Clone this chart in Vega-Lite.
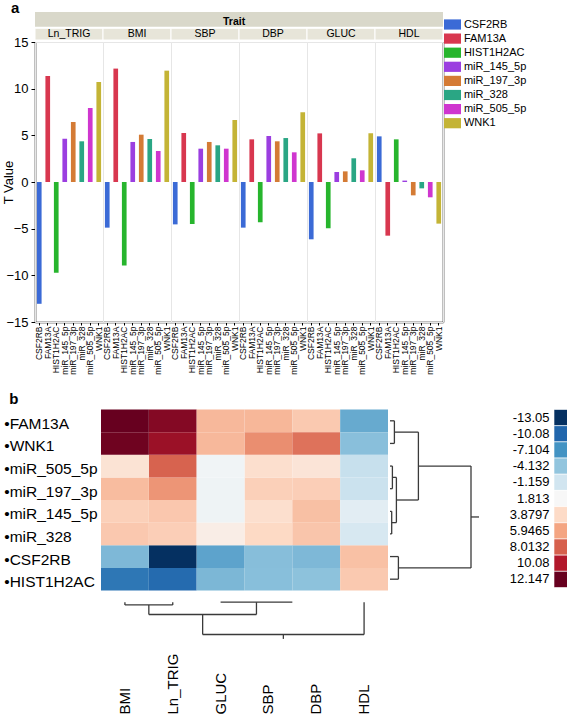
{
  "$schema": "https://vega.github.io/schema/vega-lite/v6.json",
  "padding": {"left": 2, "top": 0, "right": 0, "bottom": 0},
  "title": {"text": "a", "anchor": "start", "fontSize": 15, "fontWeight": "bold", "offset": -4, "dx": 8},
  "datasets": {
    "tvals": [
      {"Trait": "Ln_TRIG", "Gene": "CSF2RB", "T": -13.05},
      {"Trait": "Ln_TRIG", "Gene": "FAM13A", "T": 11.36},
      {"Trait": "Ln_TRIG", "Gene": "HIST1H2AC", "T": -9.72},
      {"Trait": "Ln_TRIG", "Gene": "miR_145_5p", "T": 4.64},
      {"Trait": "Ln_TRIG", "Gene": "miR_197_3p", "T": 6.43},
      {"Trait": "Ln_TRIG", "Gene": "miR_328", "T": 4.36},
      {"Trait": "Ln_TRIG", "Gene": "miR_505_5p", "T": 7.93},
      {"Trait": "Ln_TRIG", "Gene": "WNK1", "T": 10.71},
      {"Trait": "BMI", "Gene": "CSF2RB", "T": -4.89},
      {"Trait": "BMI", "Gene": "FAM13A", "T": 12.15},
      {"Trait": "BMI", "Gene": "HIST1H2AC", "T": -8.95},
      {"Trait": "BMI", "Gene": "miR_145_5p", "T": 4.29},
      {"Trait": "BMI", "Gene": "miR_197_3p", "T": 5.07},
      {"Trait": "BMI", "Gene": "miR_328", "T": 4.61},
      {"Trait": "BMI", "Gene": "miR_505_5p", "T": 3.32},
      {"Trait": "BMI", "Gene": "WNK1", "T": 11.93},
      {"Trait": "SBP", "Gene": "CSF2RB", "T": -4.54},
      {"Trait": "SBP", "Gene": "FAM13A", "T": 5.25},
      {"Trait": "SBP", "Gene": "HIST1H2AC", "T": -4.5},
      {"Trait": "SBP", "Gene": "miR_145_5p", "T": 3.57},
      {"Trait": "SBP", "Gene": "miR_197_3p", "T": 4.29},
      {"Trait": "SBP", "Gene": "miR_328", "T": 3.93},
      {"Trait": "SBP", "Gene": "miR_505_5p", "T": 3.57},
      {"Trait": "SBP", "Gene": "WNK1", "T": 6.64},
      {"Trait": "DBP", "Gene": "CSF2RB", "T": -4.89},
      {"Trait": "DBP", "Gene": "FAM13A", "T": 4.57},
      {"Trait": "DBP", "Gene": "HIST1H2AC", "T": -4.32},
      {"Trait": "DBP", "Gene": "miR_145_5p", "T": 4.93},
      {"Trait": "DBP", "Gene": "miR_197_3p", "T": 4.36},
      {"Trait": "DBP", "Gene": "miR_328", "T": 4.71},
      {"Trait": "DBP", "Gene": "miR_505_5p", "T": 3.18},
      {"Trait": "DBP", "Gene": "WNK1", "T": 7.46},
      {"Trait": "GLUC", "Gene": "CSF2RB", "T": -6.14},
      {"Trait": "GLUC", "Gene": "FAM13A", "T": 5.21},
      {"Trait": "GLUC", "Gene": "HIST1H2AC", "T": -4.96},
      {"Trait": "GLUC", "Gene": "miR_145_5p", "T": 1.07},
      {"Trait": "GLUC", "Gene": "miR_197_3p", "T": 1.14},
      {"Trait": "GLUC", "Gene": "miR_328", "T": 2.54},
      {"Trait": "GLUC", "Gene": "miR_505_5p", "T": 1.25},
      {"Trait": "GLUC", "Gene": "WNK1", "T": 5.21},
      {"Trait": "HDL", "Gene": "CSF2RB", "T": 4.89},
      {"Trait": "HDL", "Gene": "FAM13A", "T": -5.75},
      {"Trait": "HDL", "Gene": "HIST1H2AC", "T": 4.57},
      {"Trait": "HDL", "Gene": "miR_145_5p", "T": 0.15},
      {"Trait": "HDL", "Gene": "miR_197_3p", "T": -1.43},
      {"Trait": "HDL", "Gene": "miR_328", "T": -0.68},
      {"Trait": "HDL", "Gene": "miR_505_5p", "T": -1.64},
      {"Trait": "HDL", "Gene": "WNK1", "T": -4.46}
    ],
    "rowdend": [
      {"x1": 0, "x2": 4.4, "y1": 0.5, "y2": 0.5},
      {"x1": 0, "x2": 4.4, "y1": 1.5, "y2": 1.5},
      {"x1": 4.4, "x2": 4.4, "y1": 0.5, "y2": 1.5},
      {"x1": 4.4, "x2": 28.4, "y1": 1, "y2": 1},
      {"x1": 0, "x2": 2.4, "y1": 2.5, "y2": 2.5},
      {"x1": 0, "x2": 2.4, "y1": 3.5, "y2": 3.5},
      {"x1": 2.4, "x2": 2.4, "y1": 2.5, "y2": 3.5},
      {"x1": 2.4, "x2": 6.4, "y1": 3, "y2": 3},
      {"x1": 0, "x2": 1.7, "y1": 4.5, "y2": 4.5},
      {"x1": 0, "x2": 1.7, "y1": 5.5, "y2": 5.5},
      {"x1": 1.7, "x2": 1.7, "y1": 4.5, "y2": 5.5},
      {"x1": 1.7, "x2": 6.4, "y1": 5, "y2": 5},
      {"x1": 6.4, "x2": 6.4, "y1": 3, "y2": 5},
      {"x1": 6.4, "x2": 28.4, "y1": 4, "y2": 4},
      {"x1": 28.4, "x2": 28.4, "y1": 1, "y2": 4},
      {"x1": 28.4, "x2": 81, "y1": 2.5, "y2": 2.5},
      {"x1": 0, "x2": 8.4, "y1": 6.5, "y2": 6.5},
      {"x1": 0, "x2": 8.4, "y1": 7.5, "y2": 7.5},
      {"x1": 8.4, "x2": 8.4, "y1": 6.5, "y2": 7.5},
      {"x1": 8.4, "x2": 81, "y1": 7, "y2": 7},
      {"x1": 81, "x2": 81, "y1": 2.5, "y2": 7},
      {"x1": 81, "x2": 89, "y1": 4.75, "y2": 4.75}
    ],
    "coldend": [
      {"x1": 0.5, "x2": 0.5, "y1": 0, "y2": 2.7},
      {"x1": 1.5, "x2": 1.5, "y1": 0, "y2": 2.7},
      {"x1": 0.5, "x2": 1.5, "y1": 2.7, "y2": 2.7},
      {"x1": 1, "x2": 1, "y1": 2.7, "y2": 12.3},
      {"x1": 2.5, "x2": 4, "y1": 0, "y2": 0},
      {"x1": 3.25, "x2": 3.25, "y1": 0, "y2": 12.3},
      {"x1": 1, "x2": 3.25, "y1": 12.3, "y2": 12.3},
      {"x1": 2.125, "x2": 2.125, "y1": 12.3, "y2": 32.3},
      {"x1": 5.5, "x2": 5.5, "y1": 0, "y2": 32.3},
      {"x1": 2.125, "x2": 5.5, "y1": 32.3, "y2": 32.3},
      {"x1": 3.8125, "x2": 3.8125, "y1": 32.3, "y2": 36.7}
    ],
    "legend": [
      {"T": -13.05}, {"T": -10.08}, {"T": -7.104}, {"T": -4.132}, {"T": -1.159}, {"T": 1.813},
      {"T": 3.8797}, {"T": 5.9465}, {"T": 8.0132}, {"T": 10.08}, {"T": 12.147}
    ]
  },
  "spacing": 16.5,
  "resolve": {"scale": {"color": "independent"}},
  "vconcat": [
    {
      "data": {"name": "tvals"},
      "title": {"text": "Trait", "anchor": "start", "frame": "group", "dx": 188, "fontSize": 10.5, "fontWeight": "bold", "offset": -20.5, "baseline": "middle"},
      "bounds": "flush",
      "facet": {
        "column": {
          "field": "Trait", "type": "nominal",
          "sort": ["Ln_TRIG", "BMI", "SBP", "DBP", "GLUC", "HDL"],
          "header": {"title": null, "labels": false, "labelPadding": 0, "titlePadding": 0}
        }
      },
      "spacing": 0,
      "spec": {
        "width": 68,
        "height": 280,
        "layer": [
          {
            "transform": [{"aggregate": [{"op": "count", "as": "n"}], "groupby": ["Trait"]}],
            "mark": {"type": "rect", "color": "#d9d8ca"},
            "encoding": {
              "y": {"datum": 16.64, "type": "quantitative", "scale": {"domain": [-15, 15], "nice": false, "zero": false},
                    "axis": {"orient": "right", "labels": false, "ticks": false, "grid": false, "title": null, "domainColor": "black", "domainWidth": 1.5}},
              "y2": {"datum": 18.21}
            }
          },
          {
            "transform": [{"aggregate": [{"op": "count", "as": "n"}], "groupby": ["Trait"]}],
            "mark": {"type": "rect", "color": "#e7e5d9", "stroke": "white", "strokeWidth": 1},
            "encoding": {
              "y": {"datum": 15.21, "type": "quantitative", "axis": null},
              "y2": {"datum": 16.47}
            }
          },
          {
            "transform": [{"aggregate": [{"op": "count", "as": "n"}], "groupby": ["Trait"]}],
            "mark": {"type": "text", "fontSize": 10.5, "color": "black", "baseline": "middle"},
            "encoding": {
              "text": {"field": "Trait"},
              "y": {"datum": 15.84, "type": "quantitative", "axis": null}
            }
          },
          {
            "mark": {"type": "bar"},
            "encoding": {
              "x": {
                "field": "Gene", "type": "nominal",
                "sort": ["CSF2RB", "FAM13A", "HIST1H2AC", "miR_145_5p", "miR_197_3p", "miR_328", "miR_505_5p", "WNK1"],
                "scale": {"paddingInner": 0.45, "paddingOuter": 0.225},
                "axis": {"title": null, "labelAngle": 270, "labelFontSize": 8.5, "tickSize": 3, "labelPadding": 1, "domainColor": "black", "tickColor": "black", "domainWidth": 1.5, "labelColor": "black"}
              },
              "y": {
                "field": "T", "type": "quantitative",
                "axis": {"orient": "left", "values": [-15, -10, -5, 0, 5, 10, 15], "title": "T Value", "titleFontSize": 13, "titleFontWeight": "normal", "titleColor": "black", "labelFontSize": 13, "labelColor": "black", "tickSize": 4, "labelPadding": 3, "domainColor": "black", "tickColor": "black", "domainWidth": 1.5, "grid": false, "titlePadding": -10}
              },
              "color": {
                "field": "Gene", "type": "nominal",
                "scale": {
                  "domain": ["CSF2RB", "FAM13A", "HIST1H2AC", "miR_145_5p", "miR_197_3p", "miR_328", "miR_505_5p", "WNK1"],
                  "range": ["#3b6ad6", "#d8374f", "#27b52d", "#9b3ee0", "#d47b35", "#2aa684", "#cf36cf", "#c4b436"]
                },
                "legend": {
                  "orient": "none", "legendX": 412, "legendY": -23, "title": null,
                  "symbolType": "M-2,-1.2H2V1.2H-2Z", "symbolSize": 72.25, "symbolStrokeWidth": 0, "symbolOpacity": 1,
                  "labelFontSize": 11, "labelOffset": 5.9, "rowPadding": 2.1, "labelColor": "black"
                }
              }
            }
          }
        ],
        "resolve": {"axis": {"y": "independent"}}
      }
    },
    {
      "title": {"text": "b", "anchor": "start", "fontSize": 15, "fontWeight": "bold", "offset": 2, "dx": 5.5},
      "bounds": "flush",
      "spacing": 2,
      "resolve": {"scale": {"color": "independent"}},
      "hconcat": [
        {
          "width": 64, "height": 181,
          "view": {"stroke": null},
          "data": {"values": [{}]},
          "mark": {"type": "text"},
          "encoding": {"text": {"value": ""}}
        },
        {
          "width": 287, "height": 181,
          "view": {"stroke": null},
          "layer": [
            {
              "data": {"name": "tvals"},
              "mark": {"type": "rect"},
              "encoding": {
                "x": {
                  "field": "Trait", "type": "nominal",
                  "sort": ["BMI", "Ln_TRIG", "GLUC", "SBP", "DBP", "HDL"],
                  "scale": {"paddingInner": 0, "paddingOuter": 0},
                  "axis": {"orient": "bottom", "title": null, "labelAngle": 270, "labelAlign": "left", "labelBaseline": "middle", "labelPadding": 123.5, "ticks": false, "domain": false, "labelFontSize": 15, "labelColor": "black"}
                },
                "y": {
                  "field": "Gene", "type": "nominal",
                  "sort": ["FAM13A", "WNK1", "miR_505_5p", "miR_197_3p", "miR_145_5p", "miR_328", "CSF2RB", "HIST1H2AC"],
                  "scale": {"paddingInner": 0, "paddingOuter": 0},
                  "axis": {"title": null, "labelAlign": "left", "labelPadding": 97.3, "ticks": false, "domain": false, "labelFontSize": 15.5, "labelOffset": 3, "labelExpr": "'•' + datum.label", "labelColor": "black"}
                },
                "color": {
                  "field": "T", "type": "quantitative",
                  "scale": {
                    "domain": [-13.05, -10.08, -7.104, -4.132, -1.159, 1.813, 3.8797, 5.9465, 8.0132, 10.08, 12.147],
                    "range": ["#053061", "#2166ac", "#4393c3", "#92c5de", "#d1e5f0", "#f7f7f7", "#fddbc7", "#f4a582", "#d6604d", "#b2182b", "#67001f"],
                    "interpolate": "rgb", "zero": false, "nice": false
                  },
                  "legend": null
                }
              }
            },
            {
              "data": {"name": "coldend"},
              "mark": {"type": "rule", "color": "#3a3a3a", "strokeWidth": 1.3},
              "encoding": {
                "x": {"field": "x1", "type": "quantitative", "scale": {"domain": [0, 6], "nice": false, "zero": false}, "axis": null},
                "x2": {"field": "x2"},
                "y": {"field": "y1", "type": "quantitative", "scale": {"domain": [0, 36.7], "range": [192.7, 229.4], "nice": false, "zero": false}, "axis": null},
                "y2": {"field": "y2"}
              }
            }
          ],
          "resolve": {"scale": {"x": "independent", "y": "independent"}}
        },
        {
          "width": 161.4, "height": 181,
          "view": {"stroke": null},
          "data": {"name": "rowdend"},
          "mark": {"type": "rule", "color": "#3a3a3a", "strokeWidth": 1.3},
          "encoding": {
            "x": {"field": "x1", "type": "quantitative", "scale": {"domain": [0, 161.4], "nice": false, "zero": false}, "axis": null},
            "x2": {"field": "x2"},
            "y": {"field": "y1", "type": "quantitative", "scale": {"domain": [0, 8], "reverse": true, "nice": false, "zero": false}, "axis": null},
            "y2": {"field": "y2"}
          }
        },
        {
          "width": 16, "height": 178,
          "view": {"stroke": null},
          "data": {"name": "legend"},
          "mark": {"type": "rect", "stroke": "white", "strokeWidth": 0.6},
          "encoding": {
            "y": {"field": "T", "type": "ordinal", "scale": {"paddingInner": 0, "paddingOuter": 0},
                  "axis": {"title": null, "ticks": false, "domain": false, "labelPadding": 5, "labelFontSize": 13, "labelColor": "black"}},
            "color": {
              "field": "T", "type": "quantitative",
              "scale": {
                "domain": [-13.05, -10.08, -7.104, -4.132, -1.159, 1.813, 3.8797, 5.9465, 8.0132, 10.08, 12.147],
                "range": ["#053061", "#2166ac", "#4393c3", "#92c5de", "#d1e5f0", "#f7f7f7", "#fddbc7", "#f4a582", "#d6604d", "#b2182b", "#67001f"],
                "interpolate": "rgb", "zero": false, "nice": false
              },
              "legend": null
            }
          }
        }
      ]
    }
  ],
  "config": {
    "font": "Liberation Sans",
    "view": {"stroke": "#e6e6e6"},
    "axis": {"labelColor": "black", "titleColor": "black"},
    "title": {"color": "black"}
  }
}
